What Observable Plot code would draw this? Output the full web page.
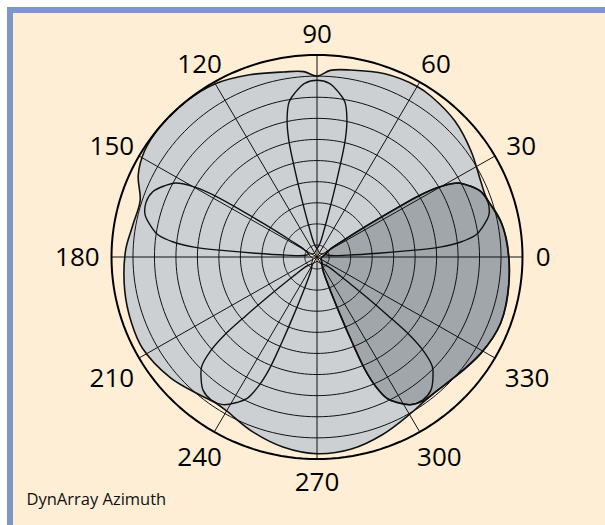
<!DOCTYPE html>
<html><head><meta charset="utf-8">
<script src="https://cdn.jsdelivr.net/npm/d3@7"></script>
<script src="https://cdn.jsdelivr.net/npm/@observablehq/plot@0.6"></script>
<style>
html,body{margin:0;padding:0;background:#fff;width:605px;height:525px;overflow:hidden;}
#frame{position:absolute;left:7px;top:7px;width:598px;height:518px;box-sizing:border-box;border-left:6px solid #8096c8;border-top:6px solid #8096c8;background:#feeed6;}
#chart{position:absolute;left:0;top:0;}
</style></head><body><div id="frame"></div><div id="chart"></div>
<script>
// ---- data (levels in dB, angles in degrees) ----
const angleTicks = [0,30,60,90,120,150,180,210,240,270,300,330];
const ringDb = [0,-3,-6,-9,-12,-15,-18,-21,-24,-27];

const envelopeAngle = [0,10,16,20,25,35,45,55,60,70,80,86,90,94,100,110,120,130,140,148,155,162,170,178,190,200,208,220,230,236,240,250,260,270,280,290,300,306,311.5,317,329,340,352];
const envelopeDb    = [-1.92,-2.44,-3.2,-3.6,-3.44,-2.44,-1.43,-0.86,-0.72,-1.0,-1.72,-2.12,-3.0,-2.3,-2.0,-1.15,-0.29,0,0,-0.29,-1.15,-2.73,-2.58,-1.95,-1.43,-1.15,-1.09,-2.0,-3.16,-3.6,-3.44,-2.3,-1.29,-0.75,-1.0,-1.87,-2.87,-3.3,-3.36,-3.1,-2.04,-1.38,-1.64];

const darkAngle = [306,294,291.5,291.5,292,292.7,294,296,298.5,302,306,311.5,317,323,329,335,340,346,352,360,366,371.4,375,378,382,385.5,388,390,391.3,392,392.5,392.5,390,378,342];
const darkDb    = [-27.44,-26.69,-24.4,-20.09,-15.79,-11.48,-8.61,-6.31,-5.17,-3.96,-3.45,-3.36,-3.1,-2.6,-2.04,-1.58,-1.38,-1.43,-1.64,-1.92,-2.15,-2.55,-3.0,-3.5,-3.96,-5.17,-6.31,-8.61,-11.48,-15.79,-20.09,-24.4,-26.69,-27.44,-28.1];

const narrowAxes   = [18,90,162,234,306];
const narrowOffset = [0,-12,-14.5,-14.5,-14,-13.3,-12,-10,-7.5,-4,0,4,7.5,10,12,13.3,14,14.5,14.5,12];
const narrowDb     = [-27.44,-26.69,-24.4,-20.09,-15.79,-11.48,-8.61,-6.31,-5.17,-3.96,-3.59,-3.96,-5.17,-6.31,-8.61,-11.48,-15.79,-20.09,-24.4,-26.69];

const starAngle = [18,54,90,126,162,198,234,270,306,342];
const starDb    = [-27.4,-28.1,-27.4,-28.1,-27.4,-28.1,-27.4,-28.1,-27.4,-28.1];

const caption = "DynArray Azimuth";

// ---- geometry helpers ----
const CX = 316.5, CY = 256.5, RX = 205.5, RY = 202;
const DB_MIN = -28.7;
const lvl = db => Math.max(0, (db - DB_MIN) / (0 - DB_MIN));
const toXY = (deg, db) => { const r = lvl(db), a = deg * Math.PI / 180; return {x: r * Math.cos(a), y: r * Math.sin(a)}; };
const polar = (angles, dbs, extra = {}) => angles.map((a, i) => ({...toXY(a, dbs[i]), ...extra}));

const envelope = polar(envelopeAngle, envelopeDb);
const dark = polar(darkAngle, darkDb);
const narrow = narrowAxes.flatMap(ax => narrowOffset.map((d, i) => ({...toXY(ax + d, narrowDb[i]), lobe: ax})));
const star = polar(starAngle, starDb);

const circleSteps = d3.range(0, 360, 2);
const rings = ringDb.flatMap(db => circleSteps.map(t => ({...toXY(t, db), ring: db})));
const outer = rings.filter(d => d.ring === 0);
const inner = rings.filter(d => d.ring !== 0);
const spokes = angleTicks.map(a => ({x1: 0, y1: 0, x2: Math.cos(a * Math.PI / 180), y2: Math.sin(a * Math.PI / 180)}));

const labels = angleTicks.map(a => {
  const t = a * Math.PI / 180, c = Math.cos(t), s = Math.sin(t), txt = String(a);
  const w = txt.length * 15.2;
  const px = c * (219.4 + 0.89 * w / 2) + (Math.abs(c) > 0.1 && Math.abs(c) < 0.95 ? 2.5 : 0);
  const py = s >= -1e-9 ? 223 * s : 225 * s - 10 * Math.abs(c);
  return {x: px / RX, y: py / RY, text: txt};
});

const LIGHT = "#cdd0d3", DARK = "#a0a6a9", BG = "#feeed6";

const chart = Plot.plot({
  width: 605, height: 525, margin: 0,
  style: {background: "transparent", overflow: "visible"},
  x: {domain: [-1, 1], range: [CX - RX, CX + RX], axis: null},
  y: {domain: [-1, 1], range: [CY + RY, CY - RY], axis: null},
  marks: [
    Plot.line(envelope, {x: "x", y: "y", curve: "catmull-rom-closed", fill: LIGHT, stroke: "none"}),
    Plot.line(dark, {x: "x", y: "y", curve: "catmull-rom-closed", fill: DARK, stroke: "none"}),
    Plot.line(star, {x: "x", y: "y", curve: "linear-closed", fill: BG, stroke: "none"}),
    Plot.line(inner, {x: "x", y: "y", z: "ring", curve: "linear-closed", stroke: "#111", strokeWidth: 1}),
    Plot.link(spokes, {x1: "x1", y1: "y1", x2: "x2", y2: "y2", stroke: "#111", strokeWidth: 1}),
    Plot.line(envelope, {x: "x", y: "y", curve: "catmull-rom-closed", stroke: "#111", strokeWidth: 1.6}),
    Plot.line(dark, {x: "x", y: "y", curve: "catmull-rom-closed", stroke: "#111", strokeWidth: 1.6}),
    Plot.line(narrow, {x: "x", y: "y", z: "lobe", curve: "catmull-rom-closed", stroke: "#111", strokeWidth: 1.4}),
    Plot.line(star, {x: "x", y: "y", curve: "linear-closed", stroke: "#111", strokeWidth: 1}),
    Plot.line(outer, {x: "x", y: "y", curve: "linear-closed", stroke: "#000", strokeWidth: 2}),
    Plot.text(labels, {x: "x", y: "y", text: "text", textAnchor: "middle", lineAnchor: "middle", dy: 1, fontSize: 26, fontFamily: "Open Sans", fill: "#000"}),
    Plot.text([caption], {frameAnchor: "bottom-left", dx: 26, dy: -26, textAnchor: "start", lineAnchor: "middle", fontSize: 16.5, fontFamily: "Open Sans", fill: "#111"})
  ]
});
document.getElementById("chart").appendChild(chart);
</script>
</body></html>
